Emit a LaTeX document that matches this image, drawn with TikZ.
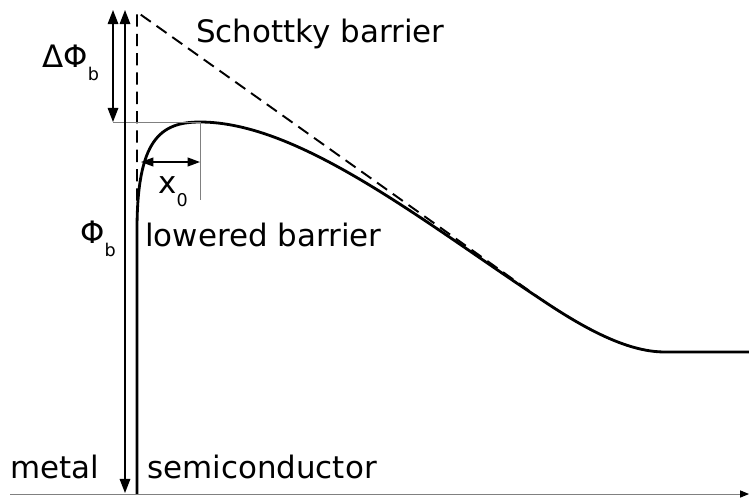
\documentclass[tikz,border=0pt]{standalone}
\usepackage{fontspec}
\setmainfont{DejaVu Sans}
\usepackage{tikz}
\usetikzlibrary{arrows.meta}

\newcommand{\lowsub}[1]{\raisebox{-0.27cm}{\fontsize{10}{12}\selectfont #1}}

\begin{document}
\begin{tikzpicture}[
  x=0.02cm, y=-0.02cm,
  lbl/.style={anchor=base west, inner sep=0pt, font=\fontsize{17.6}{20}\selectfont},
  dim/.style={{Triangle[length=8pt,width=6pt]}-{Triangle[length=8pt,width=6pt]}, line width=0.8pt},
  band/.style={line width=1.6pt, line join=round},
  schottky/.style={line width=1.1pt, dash pattern=on 7pt off 4pt},
  guide/.style={gray, line width=0.5pt}
]
\useasboundingbox (0,0) rectangle (749,501);

% Points on the band edge
\coordinate (ifbot) at (137,494);
\coordinate (iftop) at (137,12);
\coordinate (peak) at (200,122);
\coordinate (join) at (545,302);
\coordinate (flat) at (665,352);
\coordinate (flatend) at (749,352);

% Band edges
\draw[schottky] (137,220) -- (iftop) -- (join)
  .. controls (590,332) and (630,352) .. (flat);
\draw[band] (ifbot) -- (137,230) .. controls (137,140) and (160,122) .. (peak)
  .. controls (300,122) and (425,223) .. (join)
  .. controls (590,332) and (630,352) .. (flat) -- (flatend);

% Guides and axis
\coordinate (origin) at (10,494);
\coordinate (xend) at (749,494);
\coordinate (dphibot) at (113,122);
\coordinate (xzbot) at (200,200);
\draw[guide] (dphibot) -- (peak);
\draw[guide] (peak) -- (xzbot);
\draw[guide, -{Triangle[length=5pt,width=4pt,black]}] (origin) -- (xend);

% Barrier heights
\coordinate (dphitop) at (113,10);
\coordinate (phitop) at (125,10);
\coordinate (phibot) at (125,493);
\draw[dim] (dphitop) -- (dphibot);
\draw[dim] (phitop) -- (phibot);

% Lowering distance
\coordinate (xzl) at (141,162);
\coordinate (xzr) at (200,162);
\draw[dim, {Triangle[length=7pt,width=5pt]}-{Triangle[length=7pt,width=5pt]}] (xzl) -- (xzr);

% Labels
\node[lbl] (schottkylbl) at (196,42) {Schottky barrier};
\node[lbl] (loweredlbl) at (145,246) {lowered barrier};
\node[lbl] (metallbl) at (10,478) {metal};
\node[lbl] (semilbl) at (147,478) {semiconductor};
\node[lbl] (dphilbl) at (42,67) {ΔΦ\lowsub{b}};
\node[lbl] (philbl) at (80,243) {Φ\lowsub{b}};
\node[lbl] (xzerolbl) at (158,193) {x\lowsub{0}};

\end{tikzpicture}
\end{document}
